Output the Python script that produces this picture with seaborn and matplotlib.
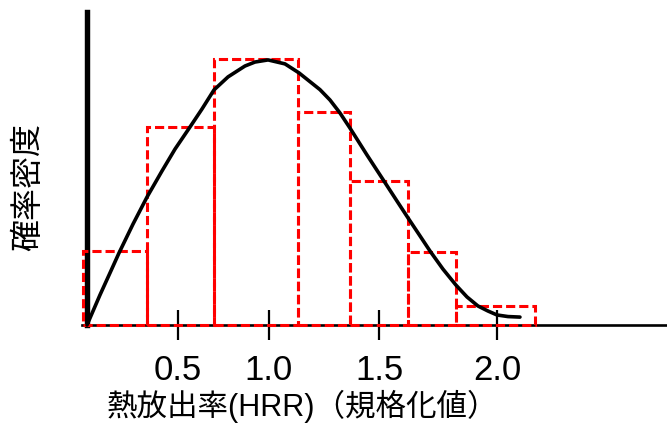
import numpy as np
import matplotlib
matplotlib.use('Agg')
import matplotlib.pyplot as plt
import seaborn as sns

# histogram of normalized HRR: bin edges and relative bar heights
bin_edges = [-0.022, 0.330, 0.698, 1.159, 1.445, 1.764, 2.027, 2.462]
bin_heights = [0.279, 0.747, 1.004, 0.804, 0.543, 0.275, 0.072]

# density curve
curve_x = [0.0, 0.071, 0.126, 0.176, 0.253, 0.330, 0.412, 0.484, 0.566, 0.632,
           0.698, 0.775, 0.868, 0.923, 0.995, 1.088, 1.165, 1.280, 1.335, 1.390,
           1.445, 1.538, 1.632, 1.703, 1.764, 1.830, 1.885, 1.956, 2.027, 2.088,
           2.148, 2.203, 2.253, 2.313, 2.379]
curve_y = [0.0, 0.113, 0.196, 0.272, 0.381, 0.483, 0.581, 0.664, 0.747, 0.815,
           0.887, 0.936, 0.977, 0.992, 1.000, 0.985, 0.951, 0.888, 0.849, 0.800,
           0.743, 0.642, 0.543, 0.468, 0.404, 0.336, 0.279, 0.211, 0.151, 0.106,
           0.072, 0.053, 0.038, 0.032, 0.030]

# tick marks (as placed in the original drawing)
tick_pos = [0.5, 1.0, 1.607, 2.253]
tick_labels = ['0.5', '1.0', '1.5', '2.0']

x_label = '熱放出率(HRR)（規格化値）'
y_label = '確率密度'

sns.set_theme(style='white')
plt.rcParams['font.family'] = ['Liberation Sans', 'Noto Sans CJK JP', 'DejaVu Sans']

fig = plt.figure(figsize=(6.67, 4.25), dpi=100)
ax = fig.add_axes([0, 0, 1, 1])
ax.set_xlim(-0.478, 3.187)
ax.set_ylim(-0.377, 1.226)

# histogram bars: red dashed outlines, no fill
widths = np.diff(bin_edges)
ax.bar(bin_edges[:-1], bin_heights, width=widths, align='edge', fill=False,
       edgecolor='#ff0000', linewidth=2.2, linestyle=(0, (3.0, 1.3)), zorder=3)

# density curve
sns.lineplot(x=curve_x, y=curve_y, color='black', linewidth=2.6, ax=ax, zorder=4,
             solid_joinstyle='round', solid_capstyle='round')

# axes drawn through the origin
ax.spines['top'].set_visible(False)
ax.spines['right'].set_visible(False)
ax.spines['left'].set_position(('data', 0))
ax.spines['left'].set_bounds(0, 1.181)
ax.spines['left'].set_linewidth(3.9)
ax.spines['left'].set_color('black')
ax.spines['bottom'].set_position(('data', 0))
ax.spines['bottom'].set_bounds(-0.027, 3.187)
ax.spines['bottom'].set_linewidth(1.9)
ax.spines['bottom'].set_color('black')

ax.set_yticks([])
ax.set_xticks(tick_pos, tick_labels)
ax.tick_params(axis='x', direction='inout', length=21, width=1.6, pad=10,
               labelsize=25, color='black', labelcolor='black', bottom=True)

ax.set_xlabel(x_label, fontsize=22, color='black')
ax.xaxis.set_label_coords(302 / 667, 1 - 406 / 425)
ax.xaxis.label.set_va('center')

ax.set_ylabel(y_label, fontsize=23, color='black')
ax.yaxis.set_label_coords(29 / 667, 1 - 187 / 425)
ax.yaxis.label.set_va('center')

fig.savefig('out.png', dpi=100)
